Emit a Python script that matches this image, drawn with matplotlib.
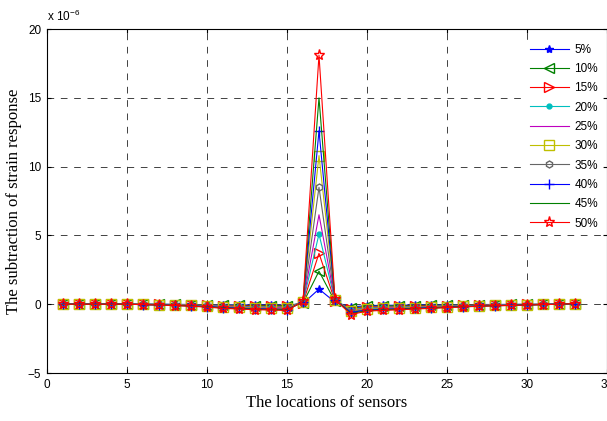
import matplotlib.pyplot as plt
import numpy as np

# sensor index
sensors = np.arange(1, 34)

# subtraction of strain response (x 1e-6) for each damage level
s05 = [0, 0, 0, 0, 0, 0, 0, -0.01, -0.02, -0.03, -0.04, -0.05, -0.06, -0.06, -0.07, 0.05, 1.1,
       0.15, -0.2, -0.1, -0.08, -0.07, -0.06, -0.05, -0.04, -0.03, -0.02, -0.02, -0.01, -0.01, 0, 0, 0.02]
s10 = [0, 0, 0, 0, 0, 0, -0.01, -0.02, -0.03, -0.05, -0.07, -0.08, -0.1, -0.1, -0.11, 0.08, 2.4,
       0.2, -0.3, -0.15, -0.13, -0.11, -0.1, -0.08, -0.07, -0.05, -0.04, -0.03, -0.02, -0.01, -0.01, 0, 0.03]
s15 = [0, 0, 0, 0, 0, -0.01, -0.02, -0.03, -0.05, -0.07, -0.1, -0.12, -0.14, -0.15, -0.16, 0.1, 3.7,
       0.22, -0.35, -0.2, -0.18, -0.16, -0.14, -0.12, -0.1, -0.08, -0.06, -0.04, -0.03, -0.02, -0.01, 0, 0.03]
s20 = [0, 0, 0, 0, 0, -0.01, -0.02, -0.04, -0.06, -0.09, -0.13, -0.16, -0.18, -0.2, -0.21, 0.12, 5.1,
       0.25, -0.4, -0.25, -0.22, -0.2, -0.18, -0.15, -0.12, -0.1, -0.08, -0.06, -0.04, -0.03, -0.01, 0, 0.04]
s25 = [0, 0, 0, 0, 0, -0.02, -0.03, -0.05, -0.08, -0.11, -0.16, -0.19, -0.22, -0.24, -0.26, 0.13, 6.5,
       0.27, -0.45, -0.3, -0.27, -0.24, -0.21, -0.18, -0.15, -0.12, -0.09, -0.07, -0.05, -0.03, -0.02, 0, 0.04]
s30 = [0, 0, 0, 0, 0, -0.02, -0.03, -0.06, -0.09, -0.13, -0.19, -0.23, -0.27, -0.29, -0.31, 0.15, 10.8,
       0.3, -0.5, -0.34, -0.31, -0.28, -0.24, -0.21, -0.17, -0.14, -0.11, -0.08, -0.06, -0.04, -0.02, 0, 0.05]
s35 = [0, 0, 0, 0, 0, -0.02, -0.04, -0.07, -0.1, -0.15, -0.22, -0.26, -0.3, -0.32, -0.35, 0.16, 8.5,
       0.3, -0.55, -0.38, -0.34, -0.31, -0.27, -0.23, -0.19, -0.15, -0.12, -0.09, -0.06, -0.04, -0.02, 0, 0.05]
s40 = [0, 0, 0, 0, 0, -0.03, -0.05, -0.08, -0.12, -0.17, -0.25, -0.3, -0.34, -0.36, -0.39, 0.17, 12.6,
       0.32, -0.6, -0.42, -0.38, -0.34, -0.3, -0.26, -0.21, -0.17, -0.13, -0.1, -0.07, -0.05, -0.02, 0, 0.05]
s45 = [0, 0, 0, 0, 0, -0.03, -0.05, -0.09, -0.13, -0.19, -0.27, -0.32, -0.37, -0.39, -0.42, 0.18, 15.0,
       0.33, -0.68, -0.46, -0.41, -0.37, -0.32, -0.28, -0.23, -0.18, -0.14, -0.11, -0.08, -0.05, -0.03, 0, 0.05]
s50 = [0, 0, 0, 0, 0, -0.03, -0.06, -0.1, -0.15, -0.21, -0.3, -0.35, -0.4, -0.42, -0.45, 0.2, 18.1,
       0.35, -0.75, -0.5, -0.45, -0.4, -0.35, -0.3, -0.25, -0.2, -0.15, -0.12, -0.09, -0.06, -0.03, 0, 0.05]

labels = ['5%', '10%', '15%', '20%', '25%', '30%', '35%', '40%', '45%', '50%']
series = [s05, s10, s15, s20, s25, s30, s35, s40, s45, s50]
colors = ['#0000ff', '#008000', '#ff0000', '#00bfbf', '#bf00bf',
          '#bfbf00', '#666666', '#0000ff', '#008000', '#ff0000']
markers = ['*', '<', '>', '.', 'None', 's', 'h', '+', 'None', '*']
msizes = [6, 7, 7, 7, 6, 7, 5, 7, 6, 8]
hollow = [False, True, True, False, False, True, True, False, False, True]

fig = plt.figure(figsize=(6.07, 4.21), dpi=100)
ax = fig.add_axes([0.0774, 0.114, 0.9226, 0.817])

for vals, lab, c, m, s, h in zip(series, labels, colors, markers, msizes, hollow):
    ax.plot(sensors, np.array(vals), color=c, marker=m, lw=0.8, ms=s,
            mfc='none' if h else c, mec=c, mew=1.0, label=lab)

ax.set_xlim(0, 35)
ax.set_ylim(-5, 20)
ax.set_xticks(np.arange(0, 36, 5))
ax.set_yticks(np.arange(-5, 21, 5))
ax.grid(True, color='#222222', linestyle=(0, (8, 8)), linewidth=0.6)
ax.tick_params(direction='in', length=3, labelsize=8.5, pad=4, top=True, right=True)
for lab in ax.get_xticklabels() + ax.get_yticklabels():
    lab.set_family('Liberation Sans')
for sp in ax.spines.values():
    sp.set_linewidth(0.8)

ax.set_xlabel('The locations of sensors', family='Liberation Serif', fontsize=12, labelpad=3)
ax.set_ylabel('The subtraction of strain response', family='Liberation Serif', fontsize=12, labelpad=4)
ax.text(0.0, 1.015, r'x 10$^{\mathregular{-6}}$', transform=ax.transAxes, fontsize=8.5,
        family='Liberation Sans', ha='left', va='bottom')

leg = ax.legend(loc='upper left', bbox_to_anchor=(0.845, 0.985), frameon=True, fancybox=False,
                edgecolor='white', facecolor='white', framealpha=1, handlelength=3.3,
                labelspacing=0.62, handletextpad=0.5, borderpad=0.3,
                prop={'family': 'Liberation Sans', 'size': 8.5})

fig.savefig('out.png', dpi=100)
